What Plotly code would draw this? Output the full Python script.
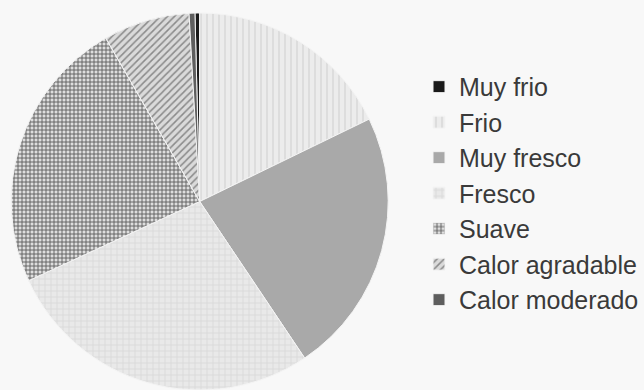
import plotly.graph_objects as go

labels = ["Muy frio", "Frio", "Muy fresco", "Fresco", "Suave", "Calor agradable", "Calor moderado"]
values = [0.4, 17.8, 22.8, 27.5, 23.6, 7.4, 0.5]

bg_colors = ["#1a1a1a", "#ececec", "#a9a9a9", "#e9e9e9", "#dedede", "#dadada", "#5e5e5e"]
fg_colors = ["#1a1a1a", "#dcdcdc", "#a9a9a9", "#dadada", "#5a5a5a", "#8a8a8a", "#5e5e5e"]
shapes = ["", "|", "", "+", "+", "/", ""]
sizes = [6, 6, 6, 6, 4, 5, 6]
solidities = [0.3, 0.3, 0.3, 0.3, 0.4, 0.3, 0.3]

fig = go.Figure(go.Pie(
    labels=labels,
    values=values,
    sort=False,
    direction="clockwise",
    rotation=-values[0] * 3.6,
    textinfo="none",
    hoverinfo="label+percent",
    marker=dict(
        colors=bg_colors,
        line=dict(color="#f4f4f4", width=1),
        pattern=dict(shape=shapes, fgcolor=fg_colors, bgcolor=bg_colors,
                     size=sizes, solidity=solidities, fillmode="replace"),
    ),
    domain=dict(x=[0, 400 / 644], y=[0, 1]),
))

fig.update_layout(
    width=644, height=390,
    margin=dict(l=0, r=0, t=13, b=0),
    paper_bgcolor="#f8f8f8",
    plot_bgcolor="#f8f8f8",
    showlegend=True,
    legend=dict(
        x=0.652, y=0.865, xanchor="left", yanchor="top",
        font=dict(family="Liberation Sans, Arial, sans-serif", size=25, color="#3a3a3a"),
        itemwidth=30,
        bgcolor="rgba(0,0,0,0)",
    ),
)

fig.write_html("out.html")
